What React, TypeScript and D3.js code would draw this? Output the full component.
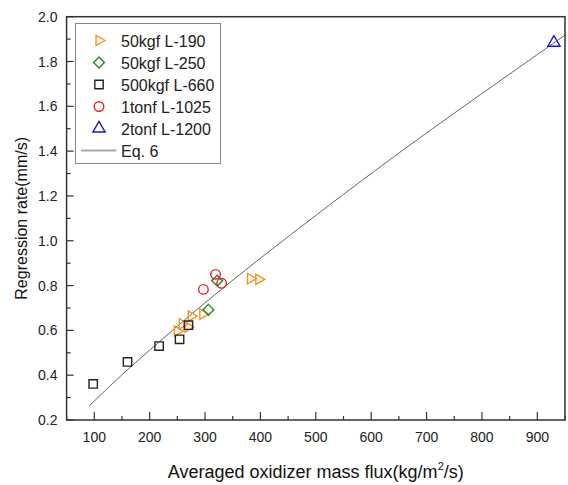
import React, { useEffect, useRef } from "react";
import * as d3 from "d3";

const W = 568;
const H = 485;

// series
const l190X = [250, 259, 269, 275, 296, 382, 397];
const l190Y = [0.597, 0.629, 0.615, 0.664, 0.673, 0.831, 0.828];
const l250X = [306, 322];
const l250Y = [0.692, 0.822];
const l660X = [98, 160, 217, 254, 270];
const l660Y = [0.361, 0.459, 0.53, 0.56, 0.623];
const l1025X = [297, 319, 330];
const l1025Y = [0.783, 0.85, 0.81];
const l1200X = [930];
const l1200Y = [1.884];
const eqX = [91, 150, 200, 300, 400, 500, 600, 700, 800, 900, 950];
const eqY = [0.263, 0.402, 0.512, 0.723, 0.922, 1.113, 1.3, 1.481, 1.657, 1.831, 1.918];

const xTicks = [100, 200, 300, 400, 500, 600, 700, 800, 900];
const yTicks = [0.2, 0.4, 0.6, 0.8, 1.0, 1.2, 1.4, 1.6, 1.8, 2.0];
const legendNames = ["50kgf L-190", "50kgf L-250", "500kgf L-660", "1tonf L-1025", "2tonf L-1200", "Eq. 6"];

const FONT = "'Liberation Sans', Arial, sans-serif";

export default function App() {
  const ref = useRef<SVGSVGElement>(null);

  useEffect(() => {
    const svg = d3.select(ref.current);
    svg.selectAll("*").remove();

    const left = 66.6, right = 565, top = 16.7, bottom = 420;
    const x = d3.scaleLinear().domain([50, 950]).range([left, right]);
    const y = d3.scaleLinear().domain([0.2, 2.0]).range([bottom, top]);

    // minor + major ticks, pointing inwards
    const g = svg.append("g");
    d3.range(50, 951, 50).forEach((v) => {
      const major = v % 100 === 0;
      g.append("line")
        .attr("x1", x(v)).attr("x2", x(v))
        .attr("y1", bottom).attr("y2", bottom - (major ? 8 : 4))
        .attr("stroke", "#333").attr("stroke-width", 1.2);
    });
    d3.range(2, 21, 1).forEach((i) => {
      const v = i / 10;
      const major = i % 2 === 0;
      g.append("line")
        .attr("x1", left).attr("x2", left + (major ? 7 : 4))
        .attr("y1", y(v)).attr("y2", y(v))
        .attr("stroke", "#333").attr("stroke-width", 1.2);
    });

    g.selectAll(".xt").data(xTicks).join("text")
      .attr("x", (d) => x(d)).attr("y", 441.5)
      .attr("text-anchor", "middle")
      .attr("font-family", FONT).attr("font-size", 14).attr("fill", "#222")
      .text((d) => d);
    g.selectAll(".yt").data(yTicks).join("text")
      .attr("x", 57.5).attr("y", (d) => y(d) + 5)
      .attr("text-anchor", "end")
      .attr("font-family", FONT).attr("font-size", 14).attr("fill", "#222")
      .text((d) => d3.format(".1f")(d));

    // axis titles
    const xt = svg.append("text")
      .attr("x", (left + right) / 2).attr("y", 478)
      .attr("text-anchor", "middle")
      .attr("font-family", FONT).attr("font-size", 18).attr("fill", "#111");
    xt.append("tspan").text("Averaged oxidizer mass flux(kg/m");
    xt.append("tspan").attr("font-size", 11).attr("dy", -8).text("2");
    xt.append("tspan").attr("dy", 8).text("/s)");

    svg.append("text")
      .attr("transform", `translate(26.5,${(top + bottom) / 2}) rotate(-90)`)
      .attr("text-anchor", "middle")
      .attr("font-family", FONT).attr("font-size", 16).attr("fill", "#111")
      .text("Regression rate(mm/s)");

    // Eq. 6 line
    const line = d3.line<number>()
      .x((d, i) => x(eqX[i]))
      .y((d) => y(d))
      .curve(d3.curveMonotoneX);
    svg.append("path")
      .attr("d", line(eqY))
      .attr("fill", "none").attr("stroke", "#666").attr("stroke-width", 1);

    const symTri = d3.symbol().type(d3.symbolTriangle).size(46)();
    const symSq = d3.symbol().type(d3.symbolSquare).size(70)();
    const symDia = d3.symbol().type(d3.symbolSquare).size(58)();
    const symCirc = d3.symbol().type(d3.symbolCircle).size(72)();
    const symUp = d3.symbol().type(d3.symbolTriangle).size(66)();

    const series = [
      { xs: l190X, ys: l190Y, path: symTri, rot: 90, color: "#f7941d" },
      { xs: l250X, ys: l250Y, path: symDia, rot: 45, color: "#1e8c1e" },
      { xs: l660X, ys: l660Y, path: symSq, rot: 0, color: "#222" },
      { xs: l1025X, ys: l1025Y, path: symCirc, rot: 0, color: "#e3232b" },
      { xs: l1200X, ys: l1200Y, path: symUp, rot: 0, color: "#1a1acc" },
    ];

    series.forEach((s) => {
      svg.append("g").selectAll("path").data(s.xs).join("path")
        .attr("d", s.path)
        .attr("transform", (d, i) => `translate(${x(d)},${y(s.ys[i])}) rotate(${s.rot})`)
        .attr("fill", "none").attr("stroke", s.color).attr("stroke-width", 1.4);
    });

    // frame
    svg.append("rect")
      .attr("x", left).attr("y", top)
      .attr("width", right - left).attr("height", bottom - top)
      .attr("fill", "none").attr("stroke", "#333").attr("stroke-width", 1.5);

    // legend
    const lg = svg.append("g");
    lg.append("rect")
      .attr("x", 75.5).attr("y", 23.5).attr("width", 145).attr("height", 140)
      .attr("fill", "white").attr("stroke", "#888").attr("stroke-width", 1);
    legendNames.forEach((name, i) => {
      const cy = 40.5 + i * 22;
      if (i < series.length) {
        const s = series[i];
        lg.append("path")
          .attr("d", s.path)
          .attr("transform", `translate(99,${cy}) rotate(${s.rot})`)
          .attr("fill", "none").attr("stroke", s.color).attr("stroke-width", 1.4);
      } else {
        lg.append("line")
          .attr("x1", 81).attr("x2", 116.5).attr("y1", cy).attr("y2", cy)
          .attr("stroke", "#aaa").attr("stroke-width", 2);
      }
      lg.append("text")
        .attr("x", 121).attr("y", cy + 6)
        .attr("font-family", FONT).attr("font-size", 16).attr("fill", "#222")
        .text(name);
    });
  }, []);

  return (
    <svg
      ref={ref}
      width={W}
      height={H}
      style={{ position: "absolute", left: 0, top: 0, background: "white" }}
    />
  );
}
